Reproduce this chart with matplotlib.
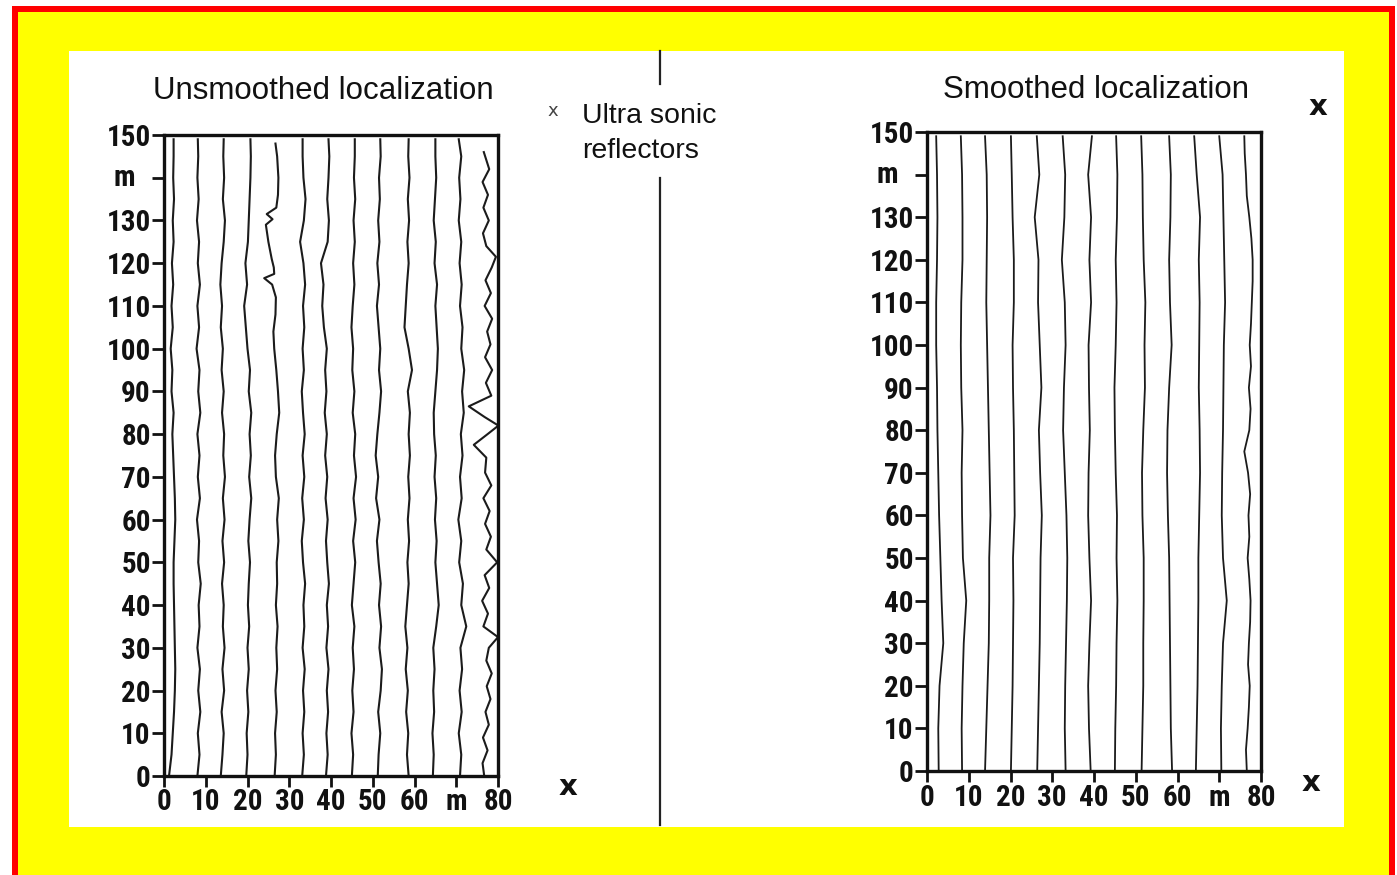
import matplotlib
matplotlib.use("Agg")
import matplotlib.pyplot as plt
from matplotlib import font_manager
from matplotlib.lines import Line2D
from matplotlib.patches import Rectangle

# ---------------------------------------------------------------------------
# Data (x in m across, y in m along)
# ---------------------------------------------------------------------------

X_TICKS = [0, 10, 20, 30, 40, 50, 60, 70, 80]
X_TICK_LABELS = ["0", "10", "20", "30", "40", "50", "60", "m", "80"]
Y_TICKS = [0, 10, 20, 30, 40, 50, 60, 70, 80, 90, 100, 110, 120, 130, 140, 150]
Y_TICK_LABELS = ["0", "10", "20", "30", "40", "50", "60", "70", "80", "90",
                 "100", "110", "120", "130", "", "150"]

# unsmoothed localization
UNSMOOTH_Y = [0, 5, 10, 15, 20, 25, 30, 35, 40, 45, 50, 55, 60, 65, 70, 75,
              80, 85, 90, 95, 100, 105, 110, 115, 120, 125, 130, 135, 140, 145, 149]
U1 = [1.2, 1.8, 2.1, 2.4, 2.6, 2.7, 2.6, 2.5, 2.4, 2.3, 2.3, 2.5, 2.7, 2.6, 2.4, 2.2,
      2.0, 2.3, 1.8, 2.0, 1.6, 2.1, 1.8, 2.2, 1.9, 2.3, 2.1, 2.4, 2.2, 2.3, 2.3]
U2 = [8.0, 8.5, 8.1, 8.7, 8.2, 8.6, 8.0, 8.5, 8.3, 8.8, 8.2, 8.4, 7.9, 8.6, 8.1, 8.5,
      8.0, 8.7, 8.2, 8.5, 7.8, 8.4, 8.0, 8.6, 8.1, 8.4, 7.9, 8.3, 8.0, 8.2, 8.1]
U3 = [13.6, 14.0, 14.3, 13.8, 14.4, 14.0, 14.5, 14.1, 14.3, 13.9, 14.4, 14.0, 14.5, 14.1,
      14.6, 14.2, 14.4, 13.9, 14.3, 13.8, 14.1, 13.6, 13.9, 13.5, 13.8, 14.3, 14.6, 14.1,
      14.4, 14.2, 14.3]
U4 = [19.7, 20.0, 19.8, 20.2, 19.9, 20.3, 20.0, 20.4, 20.1, 20.3, 20.6, 20.2, 20.5, 20.9,
      20.4, 20.8, 20.5, 20.9, 20.3, 20.6, 20.0, 19.6, 19.2, 19.9, 19.5, 20.1, 20.3, 20.5,
      20.7, 20.8, 20.7]
U5_Y = [0, 5, 10, 15, 20, 25, 30, 35, 40, 45, 50, 55, 60, 65, 70, 75, 80, 85, 90, 95,
        100, 104, 108, 112, 115, 116.5, 117.5, 119, 121, 125, 129, 130.3, 131.5, 133,
        136, 140, 145, 148]
U5 = [26.5, 26.8, 26.6, 27.0, 26.7, 27.1, 26.9, 27.2, 26.8, 27.1, 27.0, 27.4, 27.1, 27.5,
      26.8, 26.6, 27.0, 27.6, 27.3, 26.9, 26.4, 26.2, 26.7, 26.8, 25.9, 24.0, 26.4, 26.3,
      25.8, 25.0, 24.4, 26.0, 24.6, 26.9, 27.3, 27.4, 27.1, 26.7]
U6 = [33.1, 33.5, 33.2, 33.6, 33.3, 33.7, 33.2, 33.6, 33.4, 33.8, 33.3, 33.0, 33.5, 33.1,
      33.6, 33.2, 33.7, 33.3, 33.0, 33.5, 33.2, 33.6, 33.3, 33.8, 33.4, 32.6, 33.5, 33.9,
      33.4, 33.2, 33.2]
U7 = [38.8, 39.2, 38.9, 39.3, 39.0, 39.4, 38.9, 39.3, 39.0, 39.5, 39.1, 38.8, 39.2, 38.7,
      39.1, 38.6, 39.0, 38.5, 38.9, 38.6, 39.0, 38.3, 37.9, 38.2, 37.6, 39.2, 39.5, 39.1,
      39.4, 39.6, 39.4]
U8 = [45.0, 45.3, 44.9, 45.4, 45.1, 45.5, 45.2, 45.6, 45.0, 45.4, 45.8, 45.3, 45.9, 45.4,
      46.0, 45.5, 45.8, 45.2, 45.6, 45.1, 45.3, 44.9, 45.2, 45.6, 45.3, 45.7, 45.4, 45.8,
      45.5, 45.7, 45.7]
U9 = [51.2, 51.4, 51.8, 51.3, 51.9, 52.2, 51.6, 52.0, 51.5, 51.9, 51.4, 51.0, 51.6, 50.8,
      51.3, 50.7, 51.1, 51.6, 52.0, 51.5, 51.8, 51.4, 51.0, 51.5, 51.1, 51.6, 51.3, 51.7,
      51.5, 51.9, 51.8]
U10 = [58.6, 58.2, 58.5, 58.0, 58.4, 57.9, 58.3, 57.8, 58.2, 58.6, 58.3, 58.7, 58.4, 58.8,
       58.5, 58.9, 58.6, 58.9, 58.4, 59.4, 58.6, 57.6, 57.9, 58.2, 58.6, 58.3, 58.7, 58.4,
       58.8, 58.5, 58.6]
U11 = [64.4, 64.6, 64.3, 64.7, 64.5, 64.8, 64.5, 65.2, 65.8, 65.4, 65.0, 65.3, 64.9, 65.2,
       64.8, 65.1, 64.7, 64.6, 65.0, 65.4, 65.6, 65.3, 65.0, 65.4, 64.8, 65.1, 64.6, 64.9,
       65.2, 65.0, 65.0]
U12 = [70.9, 71.2, 70.6, 71.3, 70.8, 71.4, 71.0, 72.4, 71.2, 71.6, 70.7, 71.2, 70.5, 71.3,
       70.9, 71.5, 71.1, 71.8, 71.4, 71.9, 71.2, 71.5, 70.9, 71.3, 70.8, 71.2, 70.6, 71.0,
       70.7, 71.2, 70.6]
U13_Y = [0, 3, 6, 9, 12, 15, 18, 21, 24, 27, 30, 32.5, 35, 38, 41, 44, 47, 50, 53, 56,
         59, 62, 65, 68, 71, 74.5, 77.5, 80, 82, 84, 86.5, 89, 92, 95, 98, 101, 104, 107,
         110, 113, 116, 119, 121.5, 124, 127, 130, 133, 136, 139, 142, 146]
U13 = [76.7, 76.3, 77.5, 76.4, 77.8, 77.0, 78.2, 77.3, 78.5, 77.2, 77.8, 80.0, 76.5, 77.6,
       76.2, 77.9, 76.8, 79.8, 77.2, 78.3, 76.9, 78.0, 76.5, 78.4, 76.9, 77.2, 74.2, 77.5,
       80.1, 76.8, 73.0, 78.4, 77.1, 78.6, 76.9, 78.2, 77.4, 78.6, 76.8, 78.3, 77.0, 78.5,
       79.5, 77.2, 76.4, 77.8, 76.5, 77.6, 76.3, 77.9, 76.6]

# smoothed localization
SMOOTH_Y = [0, 10, 20, 30, 40, 50, 60, 70, 80, 90, 100, 110, 120, 130, 140, 149]
S1 = [2.8, 2.7, 3.0, 3.9, 3.5, 3.2, 2.9, 2.7, 2.5, 2.4, 2.2, 2.2, 2.4, 2.5, 2.4, 2.2]
S2 = [8.4, 8.3, 8.5, 8.8, 9.4, 8.6, 8.4, 8.3, 8.5, 8.2, 8.1, 8.2, 8.5, 8.5, 8.4, 8.1]
S3 = [13.9, 14.2, 14.5, 14.8, 14.9, 14.9, 15.2, 15.0, 14.8, 14.6, 14.4, 14.2, 14.3, 14.4, 14.3, 13.9]
S4 = [20.1, 20.3, 20.5, 20.6, 20.7, 20.6, 21.0, 20.9, 20.8, 20.6, 20.5, 20.8, 20.8, 20.5, 20.3, 20.1]
S5 = [26.4, 26.6, 26.8, 27.0, 27.1, 27.2, 27.5, 27.1, 26.8, 27.4, 27.0, 26.6, 26.7, 25.8, 26.9, 26.3]
S6 = [33.2, 33.0, 33.1, 33.3, 33.5, 33.6, 33.4, 33.0, 32.6, 32.8, 33.2, 33.0, 32.3, 32.9, 33.1, 32.5]
S7 = [39.2, 38.8, 38.6, 38.9, 39.3, 38.9, 38.6, 38.7, 39.0, 38.8, 38.7, 39.3, 38.9, 39.3, 38.6, 39.5]
S8 = [45.0, 45.1, 45.3, 45.4, 45.6, 45.4, 45.5, 45.2, 45.0, 44.9, 45.2, 45.4, 45.2, 45.5, 45.6, 45.3]
S9 = [51.4, 51.6, 51.8, 51.8, 51.9, 51.9, 51.6, 51.5, 51.8, 52.2, 52.1, 52.3, 51.9, 51.7, 51.6, 51.3]
S10 = [58.7, 58.4, 58.3, 58.2, 58.1, 58.0, 57.7, 57.5, 57.6, 58.0, 58.6, 58.2, 58.0, 58.3, 58.4, 58.0]
S11 = [64.4, 64.6, 64.8, 64.9, 65.0, 65.0, 65.2, 65.4, 65.3, 65.1, 65.2, 65.3, 65.1, 65.4, 64.6, 64.0]
S12 = [70.5, 70.4, 70.6, 70.9, 71.8, 70.9, 70.6, 70.7, 70.9, 71.0, 71.1, 71.4, 71.2, 71.0, 70.8, 70.0]
S13_Y = [0, 5, 10, 15, 20, 25, 30, 35, 40, 45, 50, 55, 60, 65, 70, 75, 80, 85, 90, 95,
         100, 105, 110, 115, 120, 125, 130, 135, 140, 145, 149]
S13 = [76.6, 76.4, 76.8, 77.1, 77.3, 76.9, 77.1, 77.4, 77.5, 77.2, 76.8, 77.2, 77.0, 77.4,
       76.9, 76.0, 77.2, 77.5, 77.1, 77.6, 77.3, 77.6, 77.8, 78.0, 78.0, 77.7, 77.2, 76.6,
       76.4, 76.1, 76.0]

UNSMOOTH_LINES = [(UNSMOOTH_Y, U1), (UNSMOOTH_Y, U2), (UNSMOOTH_Y, U3), (UNSMOOTH_Y, U4),
                  (U5_Y, U5), (UNSMOOTH_Y, U6), (UNSMOOTH_Y, U7), (UNSMOOTH_Y, U8),
                  (UNSMOOTH_Y, U9), (UNSMOOTH_Y, U10), (UNSMOOTH_Y, U11), (UNSMOOTH_Y, U12),
                  (U13_Y, U13)]
SMOOTH_LINES = [(SMOOTH_Y, s) for s in (S1, S2, S3, S4, S5, S6, S7, S8, S9, S10, S11, S12)]
SMOOTH_LINES.append((S13_Y, S13))


# ---------------------------------------------------------------------------
# Layout helpers (pixel positions of the original 1397x875 slide)
# ---------------------------------------------------------------------------

W, H = 1397, 875


def fx(x):
    return x / W


def fy(y):
    return 1 - y / H


def has_font(name):
    try:
        font_manager.findfont(font_manager.FontProperties(family=name),
                              fallback_to_default=False)
        return True
    except ValueError:
        return False


# narrow bold face for the scanned tick labels, with a size that keeps the width
TICK_FONT = None
for name, size in (("Roboto Condensed", 21), ("Liberation Sans Narrow", 21),
                   ("Open Sans Condensed", 21), ("Liberation Sans", 18.5)):
    if has_font(name):
        TICK_FONT = dict(family=name, weight="bold", size=size)
        break
if TICK_FONT is None:
    TICK_FONT = dict(family="DejaVu Sans", weight="bold", size=17)

SANS = "Liberation Sans" if has_font("Liberation Sans") else "DejaVu Sans"

fig = plt.figure(figsize=(W / 100, H / 100), dpi=100, facecolor="white")

# red frame, yellow slide, white scan panel
fig.add_artist(Rectangle((fx(12), 0), fx(1395) - fx(12), fy(6),
                         transform=fig.transFigure, fc="#ff0000", ec="none", zorder=-20))
fig.add_artist(Rectangle((fx(18), 0), fx(1389) - fx(18), fy(12),
                         transform=fig.transFigure, fc="#ffff00", ec="none", zorder=-19))
fig.add_artist(Rectangle((fx(69), fy(827)), fx(1344) - fx(69), fy(51) - fy(827),
                         transform=fig.transFigure, fc="white", ec="none", zorder=-18))

# vertical divider between the two panels
for y0, y1 in ((51, 84), (178, 825)):
    fig.add_artist(Line2D([fx(660), fx(660)], [fy(y0), fy(y1)], transform=fig.transFigure,
                          color="#222222", lw=1.6, zorder=-5))


def draw_panel(rect, lines, lw):
    ax = fig.add_axes(rect)
    ax.set_facecolor("none")
    for ys, xs in lines:
        ax.plot(xs, ys, color="#1b1b1b", lw=lw, solid_joinstyle="round")
    ax.set_xlim(0, 80)
    ax.set_ylim(0, 150)
    for s in ax.spines.values():
        s.set_linewidth(2.4)
        s.set_color("#111111")
    ax.set_xticks(X_TICKS)
    ax.set_xticklabels(X_TICK_LABELS, fontdict=TICK_FONT)
    ax.set_yticks(Y_TICKS)
    ax.set_yticklabels(Y_TICK_LABELS, fontdict=TICK_FONT)
    ax.tick_params(axis="y", direction="out", length=9, width=2, pad=0.5, colors="#111111")
    ax.tick_params(axis="x", direction="out", length=8, width=2, pad=1, colors="#111111")
    ax.annotate("m", xy=(0, 140), xycoords=("axes fraction", "data"),
                xytext=(-21, 0), textcoords="offset points", ha="right", va="center",
                color="#111111", **TICK_FONT)
    return ax


draw_panel([fx(164), fy(776), fx(498) - fx(164), fy(135) - fy(776)], UNSMOOTH_LINES, 1.5)
draw_panel([fx(927), fy(771), fx(1261) - fx(927), fy(132) - fy(771)], SMOOTH_LINES, 1.3)

# titles and labels
fig.text(fx(323), fy(99), "Unsmoothed localization", family=SANS, size=22.5,
         ha="center", va="baseline", color="#111111")
fig.text(fx(1096), fy(98), "Smoothed localization", family=SANS, size=22.5,
         ha="center", va="baseline", color="#111111")
fig.text(fx(582), fy(123), "Ultra sonic", family=SANS, size=20.5,
         ha="left", va="baseline", color="#111111")
fig.text(fx(582), fy(158), "reflectors", family=SANS, size=20.5,
         ha="left", va="baseline", color="#111111")
fig.text(fx(553), fy(111), "x", family="DejaVu Sans", size=13,
         ha="center", va="center", color="#444444")
for x, y in ((1318, 107), (568, 787), (1311, 783)):
    fig.text(fx(x), fy(y), "x", family="DejaVu Sans", weight="bold", size=21,
             ha="center", va="center", color="#111111")

fig.savefig("out.png", dpi=100, facecolor=fig.get_facecolor())
